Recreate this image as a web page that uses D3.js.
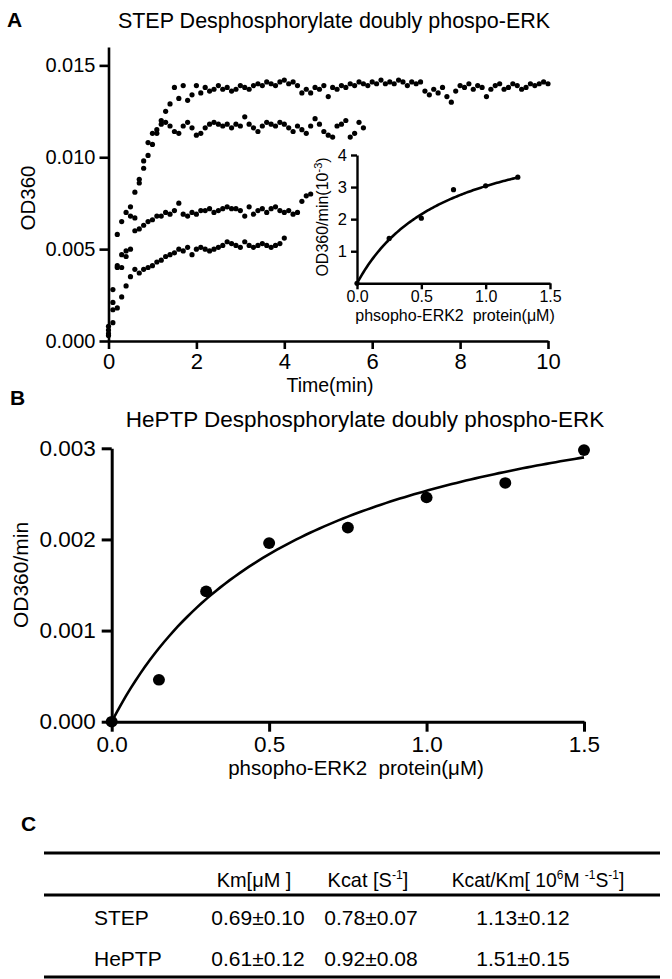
<!DOCTYPE html>
<html><head><meta charset="utf-8">
<script src="https://cdn.jsdelivr.net/npm/d3@7/dist/d3.min.js"></script>
<style>
html,body{margin:0;padding:0;background:#fff;}
svg{display:block;font-family:"Liberation Sans",Arial,sans-serif;}
</style></head><body>
<svg id="chart" width="672" height="979"></svg>
<script>
// ---------- DATA ----------
// Panel A: OD360 time courses (sampled every 0.1 min)
const sampleIntervalMin = 0.1;
const stepCurve1 = [0.0008,0.0028,0.0058,0.0065,0.0070,0.0073,0.0081,0.0088,0.0094,0.0101,
0.0107,0.0113,0.0120,0.0125,0.0129,0.0138,0.0132,0.0139,0.0131,0.0134,
0.0139,0.0135,0.0138,0.0136,0.0137,0.0139,0.0137,0.0138,0.0136,0.0137,
0.0139,0.0138,0.0137,0.0139,0.0140,0.0139,0.0141,0.0140,0.0139,0.0141,
0.0142,0.0140,0.0141,0.0139,0.0135,0.0137,0.0135,0.0138,0.0137,0.0139,
0.0133,0.0138,0.0137,0.0139,0.0138,0.0140,0.0139,0.0141,0.0140,0.0139,
0.0141,0.0140,0.0142,0.0140,0.0141,0.0140,0.0142,0.0141,0.0139,0.0141,
0.0140,0.0141,0.0136,0.0134,0.0137,0.0135,0.0138,0.0133,0.0130,0.0136,
0.0139,0.0138,0.0140,0.0137,0.0139,0.0138,0.0133,0.0137,0.0139,0.0140,
0.0137,0.0138,0.0140,0.0139,0.0137,0.0138,0.0140,0.0139,0.0140,0.0141,
0.0140];
const stepCurve2 = [0.0006,0.0021,0.0040,0.0047,0.0049,0.0068,0.0067,0.0086,0.0098,0.0108,
0.0113,0.0115,0.0118,0.0119,0.0117,0.0114,0.0113,0.0117,0.0119,0.0116,
0.0112,0.0113,0.0116,0.0118,0.0119,0.0118,0.0117,0.0118,0.0116,0.0118,
0.0117,0.0122,0.0118,0.0116,0.0114,0.0117,0.0119,0.0118,0.0117,0.0119,
0.0118,0.0116,0.0114,0.0117,0.0115,0.0113,0.0117,0.0121,0.0118,0.0114,
0.0112,0.0111,0.0117,0.0118,0.0120,0.0111,0.0113,0.0119,0.0116];
const stepCurve3 = [0.0004,0.0017,0.0041,0.0040,0.0046,0.0050,0.0060,0.0061,0.0063,0.0065,
0.0066,0.0068,0.0068,0.0070,0.0069,0.0071,0.0075,0.0069,0.0068,0.0070,
0.0069,0.0071,0.0071,0.0072,0.0070,0.0071,0.0072,0.0073,0.0072,0.0072,
0.0071,0.0068,0.0073,0.0069,0.0071,0.0072,0.0070,0.0072,0.0073,0.0071,
0.0070,0.0071,0.0069,0.0070,0.0076,0.0079,0.0080];
const stepCurve4 = [0.0003,0.0010,0.0018,0.0024,0.0030,0.0035,0.0039,0.0037,0.0039,0.0040,
0.0041,0.0043,0.0044,0.0046,0.0047,0.0048,0.0050,0.0049,0.0051,0.0047,
0.0050,0.0051,0.0050,0.0049,0.0050,0.0051,0.0052,0.0054,0.0053,0.0052,
0.0051,0.0054,0.0052,0.0051,0.0052,0.0053,0.0052,0.0051,0.0052,0.0053,
0.0056];
const aTimeTicks = [0, 2, 4, 6, 8, 10];
const aODTicks = [0, 0.005, 0.010, 0.015];

// Panel A inset: STEP initial rates (10^-3 OD360/min)
const insetConc = [0, 0.25, 0.5, 0.75, 1.0, 1.25];
const insetRate = [0, 1.4, 2.03, 2.92, 3.04, 3.31];
const insetXTicks = [0, 0.5, 1.0, 1.5];
const insetYTicks = [1, 2, 3, 4];
const stepKm = 0.69, stepVmax = 5.12;   // Michaelis-Menten fit

// Panel B: HePTP initial rates
const hepConc = [0, 0.15, 0.3, 0.5, 0.75, 1.0, 1.25, 1.5];
const hepRate = [0, 0.00046, 0.00143, 0.00196, 0.00213, 0.00246, 0.00262, 0.00298];
const bXTicks = [0, 0.5, 1.0, 1.5];
const bYTicks = [0, 0.001, 0.002, 0.003];
const hepKm = 0.61, hepVmax = 0.00408;   // Michaelis-Menten fit

// Panel C: table
const tableEnzymes = ["STEP", "HePTP"];
const tableKm = ["0.69±0.10", "0.61±0.12"];
const tableKcat = ["0.78±0.07", "0.92±0.08"];
const tableKcatKm = ["1.13±0.12", "1.51±0.15"];

// ---------- DRAW ----------
const svg = d3.select("#chart");
const FONT = '"Liberation Sans",Arial,sans-serif';

function styleAxis(g, sw, fs) {
  g.select(".domain").attr("stroke", "#000").attr("stroke-width", sw);
  g.selectAll(".tick line").attr("stroke", "#000").attr("stroke-width", sw);
  g.selectAll(".tick text").attr("fill", "#000").attr("font-size", fs).attr("font-family", FONT);
}

// Panel letters
[["A", 7, 27], ["B", 10, 405], ["C", 21, 831]].forEach(([t, x, y]) => {
  svg.append("text").attr("x", x).attr("y", y).attr("font-size", 21)
    .attr("font-weight", "bold").text(t);
});

// ===== Panel A =====
const xA = d3.scaleLinear().domain([0, 10]).range([108.5, 548]);
const yA = d3.scaleLinear().domain([0, 0.016]).range([341, 47]);

svg.append("text").attr("x", 334).attr("y", 28).attr("text-anchor", "middle")
  .attr("font-size", 21.5).text("STEP Desphosphorylate doubly phospo-ERK");

const seriesA = [stepCurve1, stepCurve2, stepCurve3, stepCurve4];
const gDots = svg.append("g");
seriesA.forEach(s => {
  gDots.selectAll(null).data(s).enter().append("circle")
    .attr("cx", (d, i) => xA(i * sampleIntervalMin))
    .attr("cy", d => yA(d)).attr("r", 2.6).attr("fill", "#000");
});

const axAx = svg.append("g").attr("transform", `translate(0,${yA(0)})`)
  .call(d3.axisBottom(xA).tickValues(aTimeTicks).tickSize(8).tickPadding(4).tickSizeOuter(0).tickFormat(d3.format("d")));
styleAxis(axAx, 2.6, 22);
const ayAx = svg.append("g").attr("transform", `translate(${xA(0)},0)`)
  .call(d3.axisLeft(yA).tickValues(aODTicks).tickSize(9).tickPadding(4).tickSizeOuter(0).tickFormat(d3.format(".3f")));
styleAxis(ayAx, 2.6, 20);

svg.append("text").attr("x", 330).attr("y", 392).attr("text-anchor", "middle")
  .attr("font-size", 19.5).text("Time(min)");
svg.append("text").attr("transform", "translate(35,198) rotate(-90)").attr("text-anchor", "middle")
  .attr("font-size", 20.5).text("OD360");

// ----- Inset -----
const xI = d3.scaleLinear().domain([0, 1.5]).range([357, 550]);
const yI = d3.scaleLinear().domain([0, 4]).range([283.3, 155]);
const ixAx = svg.append("g").attr("transform", `translate(0,${yI(0)})`)
  .call(d3.axisBottom(xI).tickValues(insetXTicks).tickSize(6).tickPadding(1).tickSizeOuter(0).tickFormat(d3.format(".1f")));
styleAxis(ixAx, 2.4, 16);
const iyAx = svg.append("g").attr("transform", `translate(${xI(0)},0)`)
  .call(d3.axisLeft(yI).tickValues(insetYTicks).tickSize(6).tickPadding(4).tickSizeOuter(0).tickFormat(d3.format("d")));
styleAxis(iyAx, 2.4, 16.5);

const insetFit = d3.range(0, 1.2501, 0.0125);
svg.append("path").datum(insetFit)
  .attr("d", d3.line().x(d => xI(d)).y(d => yI(stepVmax * d / (stepKm + d))))
  .attr("fill", "none").attr("stroke", "#000").attr("stroke-width", 2.6);
svg.append("g").selectAll("circle").data(insetConc).enter().append("circle")
  .attr("cx", d => xI(d)).attr("cy", (d, i) => yI(insetRate[i])).attr("r", 2.6).attr("fill", "#000");

svg.append("text").attr("x", 455).attr("y", 320.5).attr("text-anchor", "middle")
  .attr("font-size", 16).style("white-space", "pre")
  .text("phsopho-ERK2  protein(μM)");
const iyl = svg.append("text").attr("transform", "translate(328,217) rotate(-90)")
  .attr("text-anchor", "middle").attr("font-size", 16);
iyl.append("tspan").text("OD360/min(10");
iyl.append("tspan").attr("font-size", 11).attr("dy", -6).text("-3");
iyl.append("tspan").attr("dy", 6).text(")");

// ===== Panel B =====
const xB = d3.scaleLinear().domain([0, 1.5]).range([111.7, 584]);
const yB = d3.scaleLinear().domain([0, 0.003]).range([721.7, 448.3]);

svg.append("text").attr("x", 365).attr("y", 427).attr("text-anchor", "middle")
  .attr("font-size", 22.5).text("HePTP Desphosphorylate doubly phospho-ERK");

const bxAx = svg.append("g").attr("transform", `translate(0,${yB(0)})`)
  .call(d3.axisBottom(xB).tickValues(bXTicks).tickSize(10).tickPadding(4).tickSizeOuter(0).tickFormat(d3.format(".1f")));
styleAxis(bxAx, 3, 22.5);
const byAx = svg.append("g").attr("transform", `translate(${xB(0)},0)`)
  .call(d3.axisLeft(yB).tickValues(bYTicks).tickSize(10).tickPadding(6).tickSizeOuter(0).tickFormat(d3.format(".3f")));
styleAxis(byAx, 3, 22.5);

const hepFit = d3.range(0, 1.5001, 0.015);
svg.append("path").datum(hepFit)
  .attr("d", d3.line().x(d => xB(d)).y(d => yB(hepVmax * d / (hepKm + d))))
  .attr("fill", "none").attr("stroke", "#000").attr("stroke-width", 2.6);
svg.append("g").selectAll("ellipse").data(hepConc).enter().append("ellipse")
  .attr("cx", d => xB(d)).attr("cy", (d, i) => yB(hepRate[i])).attr("rx", 6).attr("ry", 5.8).attr("fill", "#000");

svg.append("text").attr("x", 356).attr("y", 775).attr("text-anchor", "middle")
  .attr("font-size", 20.5).style("white-space", "pre").text("phsopho-ERK2  protein(μM)");
svg.append("text").attr("transform", "translate(28,575) rotate(-90)").attr("text-anchor", "middle")
  .attr("font-size", 21).text("OD360/min");

// ===== Panel C: table =====
const tX0 = 44, tX1 = 660;
[853, 895, 977].forEach(y => {
  svg.append("line").attr("x1", tX0).attr("x2", tX1).attr("y1", y).attr("y2", y)
    .attr("stroke", "#000").attr("stroke-width", 3);
});
const TFS = 21;
function cellText(x, y, anchor, sx) {
  return svg.append("text").attr("transform", `translate(${x},${y}) scale(${sx || 1},1)`)
    .attr("text-anchor", anchor).attr("font-size", TFS).style("white-space", "pre");
}
function addSup(t, parts) {
  let shift = 0;
  parts.forEach(([s, sup]) => {
    const sp = t.append("tspan").text(s);
    if (sup) {
      sp.attr("font-size", 13).attr("dy", -8); shift = 8;
    } else {
      sp.attr("font-size", TFS);
      if (shift) { sp.attr("dy", shift); shift = 0; }
    }
  });
}
const headY = 887;
addSup(cellText(254, headY, "middle", 0.95), [["Km[μM ]", false]]);
addSup(cellText(368, headY, "middle", 0.95), [["Kcat [S", false], ["-1", true], ["]", false]]);
addSup(cellText(538, headY, "middle", 0.92), [["Kcat/Km[ 10", false], ["6", true], ["M ", false], ["-1", true], ["S", false], ["-1", true], ["]", false]]);

const rowY = [924.5, 965.5];
tableEnzymes.forEach((e, i) => {
  cellText(94, rowY[i], "start").text(e);
  cellText(258, rowY[i], "middle").text(tableKm[i]);
  cellText(371, rowY[i], "middle").text(tableKcat[i]);
  cellText(523, rowY[i], "middle").text(tableKcatKm[i]);
});
</script>
</body></html>
